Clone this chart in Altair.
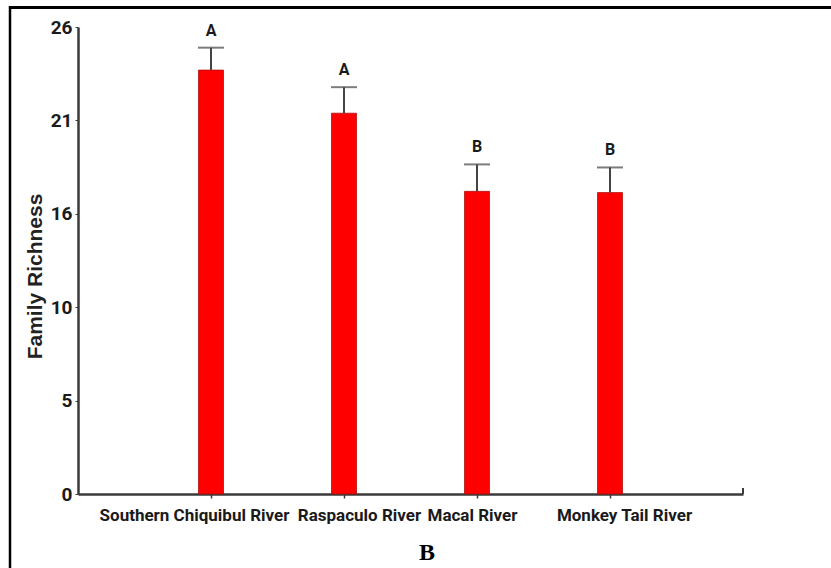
import altair as alt
import pandas as pd

# Mean family richness per river with standard errors and significance groups
rivers = ["Southern Chiquibul River", "Raspaculo River", "Macal River", "Monkey Tail River"]
richness = [23.6, 21.2, 16.85, 16.78]
std_err = [1.25, 1.45, 1.5, 1.4]
groups = ["A", "A", "B", "B"]

# Y axis runs 0-26 with six evenly spaced ticks, labelled rounded
y_ticks = [0, 5.2, 10.4, 15.6, 20.8, 26]

df = pd.DataFrame({"river": rivers, "richness": richness, "se": std_err, "group": groups})

W, H = 665, 467
narrow = "Roboto, Liberation Sans, sans-serif"
axis_color = "#3a3a3a"

# Category labels are nudged sideways so the long names don't collide
label_shift = (
    "datum.value == 'Southern Chiquibul River' ? -17 : "
    "datum.value == 'Raspaculo River' ? 15 : "
    "datum.value == 'Macal River' ? -5 : 14"
)

base = alt.Chart(df).transform_calculate(upper="datum.richness + datum.se")

x_enc = alt.X(
    "river:N",
    sort=rivers,
    scale=alt.Scale(type="point", padding=1),
    axis=alt.Axis(
        title=None,
        labelAngle=0,
        labelFont=narrow,
        labelFontSize=17,
        labelFontWeight="bold",
        labelColor="#1a1a1a",
        labelPadding=9,
        labelLimit=0,
        labelOffset={"expr": label_shift},
        tickSize=4,
        tickColor=axis_color,
        tickWidth=1.5,
        domainColor=axis_color,
        domainWidth=2.5,
        grid=False,
    ),
)

y_scale = alt.Scale(domain=[0, 26], nice=False, zero=True)

bars = base.mark_bar(size=25, color="#ff0000", stroke="#b01010", strokeWidth=0.8).encode(
    x=x_enc,
    y=alt.Y(
        "richness:Q",
        scale=y_scale,
        axis=alt.Axis(
            values=y_ticks,
            labelExpr="round(datum.value)",
            labelFont=narrow,
            labelFontSize=19,
            labelFontWeight="bold",
            labelColor="#1a1a1a",
            labelPadding=3,
            tickSize=3,
            tickColor=axis_color,
            domainColor=axis_color,
            domainWidth=2.5,
            grid=False,
            title="Family Richness",
            titleFont="Liberation Sans, Arial, sans-serif",
            titleFontSize=21,
            titleFontWeight="bold",
            titleColor="#222222",
            titleX=-43,
            titleY=249,
            titleBaseline="middle",
        ),
    ),
)

stems = base.mark_rule(color="#444444", strokeWidth=2).encode(
    x=alt.X("river:N", sort=rivers),
    y=alt.Y("richness:Q", scale=y_scale),
    y2="upper:Q",
)

caps = base.mark_tick(color="#444444", size=26, thickness=2).encode(
    x=alt.X("river:N", sort=rivers),
    y=alt.Y("upper:Q", scale=y_scale),
)

letters = base.mark_text(
    dy=-17, baseline="middle", font=narrow, fontSize=16, fontWeight="bold", color="#1a1a1a"
).encode(
    x=alt.X("river:N", sort=rivers),
    y=alt.Y("upper:Q", scale=y_scale),
    text="group:N",
)

frame_df = pd.DataFrame({"k": [0]})

# Small upturned end cap on the right end of the x axis line
end_cap = alt.Chart(frame_df).mark_rule(color=axis_color, strokeWidth=2).encode(
    x=alt.value(W), y=alt.value(H), y2=alt.value(H - 6)
)

# Frame lines along the top and left edges of the figure
top_border = alt.Chart(frame_df).mark_rule(color="black", strokeWidth=3).encode(
    x=alt.value(-69), x2=alt.value(760), y=alt.value(-19.5)
)
left_border = alt.Chart(frame_df).mark_rule(color="black", strokeWidth=2.5).encode(
    x=alt.value(-68), y=alt.value(-21), y2=alt.value(545)
)

panel_label = alt.Chart(frame_df).mark_text(
    text="B", font="Liberation Serif, Times New Roman, serif", fontSize=24, fontWeight="bold",
    color="black", baseline="middle", align="center"
).encode(x=alt.value(349), y=alt.value(526))

chart = (
    alt.layer(bars, stems, caps, letters, end_cap, top_border, left_border, panel_label)
    .properties(
        width=W,
        height=H,
        padding={"left": 78, "top": 27, "right": 88, "bottom": 74},
        autosize=alt.AutoSizeParams(type="none"),
        background="white",
    )
    .configure_view(stroke=None)
)

chart.save("out.html", embed_options={"renderer": "svg", "actions": False})
